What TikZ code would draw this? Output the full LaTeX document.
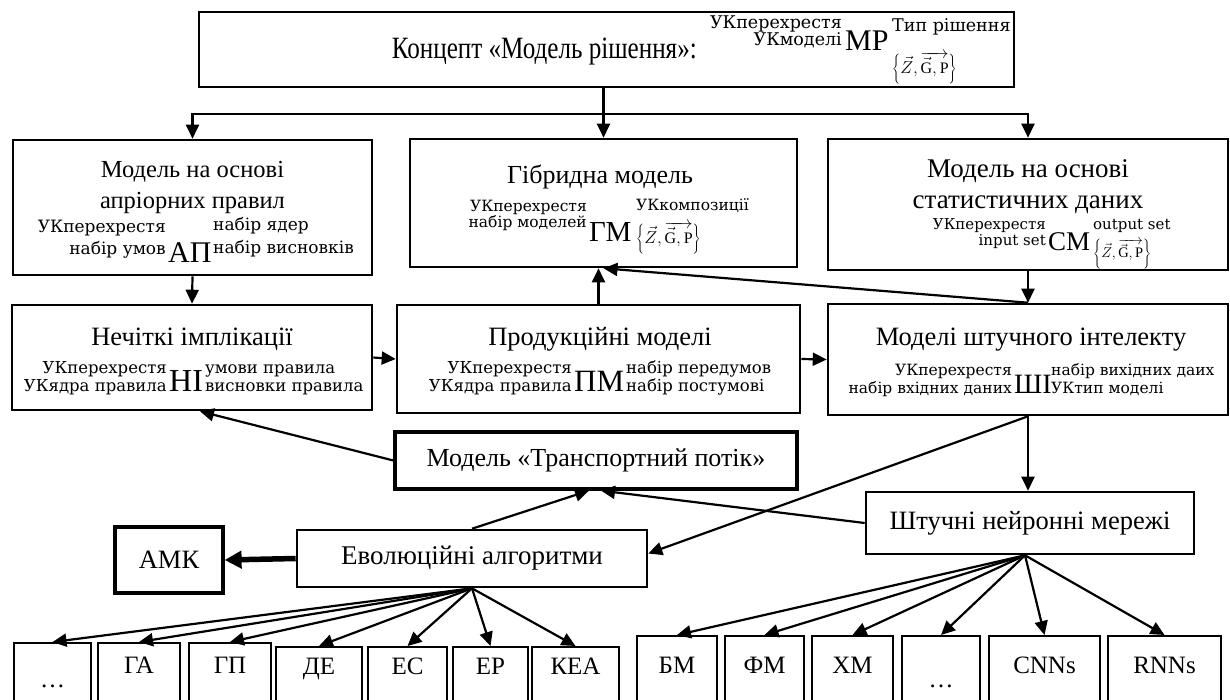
\documentclass[tikz,border=0pt]{standalone}
\usepackage{graphicx}
\usepackage{fontspec}
\setmainfont{Liberation Serif}
\newfontfamily\scf{DejaVu Serif}
\usetikzlibrary{arrows.meta}
\newcommand{\fs}[1]{\fontsize{#1}{#1}\selectfont}
\newcommand{\zgp}{$\left\{\vec{Z},\overrightarrow{\vec{\mathrm{G}},\mathrm{P}}\right\}$}
\begin{document}
\begin{tikzpicture}[x=1pt,y=-1pt,
 box/.style={draw,line width=2.6pt,inner sep=0pt},
 tbox/.style={draw,line width=3.2pt,inner sep=0pt,font=\fs{26}},
 ttl/.style={inner sep=0pt,anchor=base,font=\fs{26.5}},
 sc/.style={inner sep=0pt,font=\scf},
 scl/.style={sc,anchor=base east},
 scr/.style={sc,anchor=base west},
 bigl/.style={inner sep=0pt,anchor=base west},
 conn/.style={line width=2.2pt,-{Triangle[length=14pt,width=13pt]}},
 fat/.style={line width=5.5pt,-{Triangle[length=17pt,width=17pt]}},
 lbx/.style={draw,line width=2.3pt,inner sep=0pt,anchor=north,font=\fs{25}},
]
\useasboundingbox (0,0) rectangle (1230,699);
\clip (0,0) rectangle (1230,699);
\fill[white] (0,0) rectangle (1230,699);

% ---------- top box
\node[box,minimum width=815,minimum height=75] (top) at (606.5,49.5) {};
\node[ttl,anchor=base east] (top-t) at (697,58) {\scalebox{0.81}[1]{\fs{31}Концепт «Модель рішення»:}};
\node[scl] (top-lt) at (842,28) {\fs{17.5}УКперехрестя};
\node[scl] (top-lb) at (842,45) {\fs{17.5}УКмоделі};
\node[bigl] (top-b) at (845,50) {\fs{30}МР};
\node[scr] (top-rt) at (892,31) {\fs{17.5}Тип рішення};
\node[sc,anchor=west] (top-rb) at (892,68) {\fs{16}\zgp};

% ---------- row 1
\node[box,minimum width=359,minimum height=135] (ap) at (192.5,207.5) {};
\node[ttl,font=\fs{24.5}] (ap-t1) at (192.5,177) {Модель на основі};
\node[ttl,font=\fs{24.5}] (ap-t2) at (192.5,208) {апріорних правил};
\node[scl] (ap-lt) at (166,232) {\fs{17}УКперехрестя};
\node[scl] (ap-lb) at (166,254) {\fs{17}набір умов};
\node[bigl] (ap-b) at (168,262) {\fs{30}АП};
\node[scr] (ap-rt) at (213,230) {\fs{17}набір ядер};
\node[scr] (ap-rb) at (213,253) {\fs{17}набір висновків};

\node[box,minimum width=387,minimum height=128] (gm) at (603.5,203) {};
\node[ttl,font=\fs{26}] (gm-t) at (600,183) {Гібридна модель};
\node[scl] (gm-lt) at (587,211) {\fs{15.5}УКперехрестя};
\node[scl] (gm-lb) at (587,227) {\fs{15.5}набір моделей};
\node[bigl] (gm-b) at (589,241) {\fs{29}ГМ};
\node[scr] (gm-rt) at (636,210) {\fs{15.5}УКкомпозиції};
\node[sc,anchor=west] (gm-rb) at (636,238) {\fs{16}\zgp};

\node[box,minimum width=400,minimum height=131] (cm) at (1028,204.5) {};
\node[ttl,font=\fs{27}] (cm-t1) at (1028,177) {Модель на основі};
\node[ttl,font=\fs{27}] (cm-t2) at (1028,208) {статистичних даних};
\node[scl] (cm-lt) at (1046,229) {\fs{15}УКперехрестя};
\node[scl] (cm-lb) at (1046,245) {\fs{15}input set};
\node[bigl] (cm-b) at (1048,250) {\fs{27}СМ};
\node[scr] (cm-rt) at (1093,229) {\fs{15}output set};
\node[sc,anchor=west] (cm-rb) at (1093,254) {\fs{14.5}\zgp};

% ---------- row 2
\node[box,minimum width=360,minimum height=105] (ni) at (192,357.5) {};
\node[ttl] (ni-t) at (192,345) {Нечіткі імплікації};
\node[scl] (ni-lt) at (167,373) {\fs{16.5}УКперехрестя};
\node[scl] (ni-lb) at (167,391) {\fs{16.5}УКядра правила};
\node[bigl] (ni-b) at (169,391) {\fs{32}НІ};
\node[scr] (ni-rt) at (205,373) {\fs{16.5}умови правила};
\node[scr] (ni-rb) at (205,391) {\fs{16.5}висновки правила};

\node[box,minimum width=403,minimum height=108] (pm) at (598.5,359) {};
\node[ttl] (pm-t) at (600,345) {Продукційні моделі};
\node[scl] (pm-lt) at (572,373) {\fs{16.5}УКперехрестя};
\node[scl] (pm-lb) at (572,391) {\fs{16.5}УКядра правила};
\node[bigl] (pm-b) at (574,391) {\fs{31}ПМ};
\node[scr] (pm-rt) at (626,373) {\fs{16.5}набір передумов};
\node[scr] (pm-rb) at (626,391) {\fs{16.5}набір постумові};

\node[box,minimum width=400,minimum height=111] (si) at (1028,359.5) {};
\node[ttl] (si-t) at (1031,345) {Моделі штучного інтелекту};
\node[scl] (si-lt) at (1012,375) {\fs{15.5}УКперехрестя};
\node[scl] (si-lb) at (1012,393) {\fs{15.5}набір вхідних даних};
\node[bigl] (si-b) at (1014,393) {\fs{28}ШІ};
\node[scr] (si-rt) at (1051,375) {\fs{15.5}набір вихідних даих};
\node[scr] (si-rb) at (1051,393) {\fs{15.5}УКтип моделі};

% ---------- row 3
\node[tbox,minimum width=402,minimum height=57] (tp) at (596,460.5) {Модель «Транспортний потік»};
\node[box,minimum width=350,minimum height=57] (evo) at (472,558.5) {\fs{27}Еволюційні алгоритми};
\node[tbox,minimum width=108,minimum height=66] (amk) at (169,560) {\fs{26.5}АМК};
\node[box,minimum width=328,minimum height=62] (snm) at (1030,523) {\fs{26.5}Штучні нейронні мережі};

% ---------- bottom rows
\node[lbx,minimum width=77,text height=44,text depth=17] (l1) at (52.5,642) {…};
\node[lbx,minimum width=82,text height=30,text depth=31] (l2) at (139,642) {ГА};
\node[lbx,minimum width=82,text height=30,text depth=31] (l3) at (230,642) {ГП};
\node[lbx,minimum width=86,text height=27,text depth=30] (l4) at (319,646) {ДЕ};
\node[lbx,minimum width=79,text height=27,text depth=30] (l5) at (407.5,646) {ЕС};
\node[lbx,minimum width=75,text height=27,text depth=30] (l6) at (490.5,646) {ЕР};
\node[lbx,minimum width=87,text height=27,text depth=30] (l7) at (575.5,646) {КЕА};

\node[lbx,minimum width=80,text height=37,text depth=31] (r1) at (677,635) {БМ};
\node[lbx,minimum width=79,text height=37,text depth=31] (r2) at (764.5,635) {ФМ};
\node[lbx,minimum width=81,text height=37,text depth=31] (r3) at (852.5,635) {ХМ};
\node[lbx,minimum width=78,text height=51,text depth=17] (r4) at (941,635) {…};
\node[lbx,minimum width=111,text height=37,text depth=31] (r5) at (1044.5,635) {CNNs};
\node[lbx,minimum width=113,text height=37,text depth=31] (r6) at (1164.5,635) {RNNs};

% ---------- connectors
\coordinate (hub) at (600,114);
\draw[conn] (gm.north |- top.south) -- (gm.north);
\draw[conn] (hub) -| (ap.north);
\draw[conn] (hub) -| (cm.north);
\draw[conn] (ap.south) -- (ni.north);
\draw[conn] (cm.south) -- (si.north);
\draw[conn] (si.north) -- (gm.south);
\draw[conn] (pm.north) -- (pm.north |- gm.south);
\draw[conn] (ni.east) -- (pm.west);
\draw[conn] (pm.east) -- (si.west);
\draw[conn] (tp.west) -- ([xshift=8pt]ni.south);
\draw[conn] (si.south) -- (si.south |- snm.north);
\draw[conn] (si.south) -- ([yshift=5pt]evo.east);
\draw[conn] (snm.west) -- ([xshift=5pt]tp.south);
\draw[conn] (evo.north) -- ([xshift=-7pt]tp.south);
\draw[fat] (evo.west) -- (amk.east);
\foreach \n in {l1,l2,l3,l4,l5,l6,l7} \draw[conn] (evo.south) -- (\n.north);
\foreach \n in {r1,r2,r3,r4,r5,r6} \draw[conn] ([xshift=-5pt]snm.south) -- (\n.north);
\end{tikzpicture}
\end{document}
